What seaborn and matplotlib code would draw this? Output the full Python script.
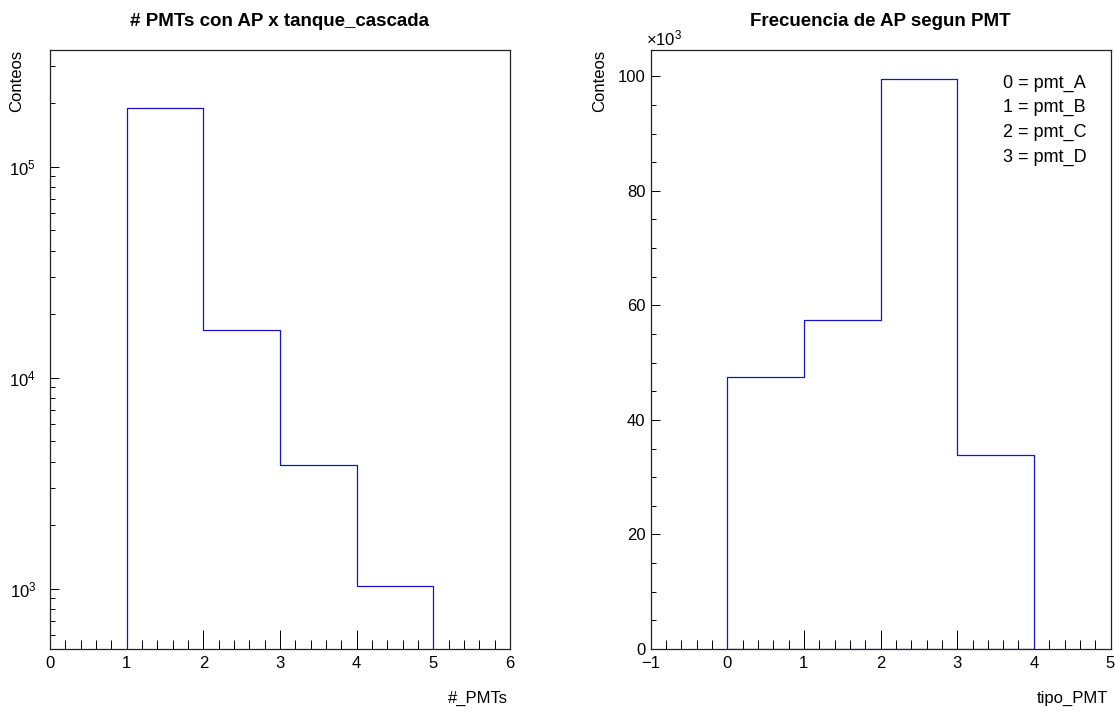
import numpy as np
import pandas as pd
import matplotlib
matplotlib.use("Agg")
import matplotlib.pyplot as plt
import matplotlib.ticker as mticker
import seaborn as sns

pmts_edges = [1, 2, 3, 4, 5]
pmts_conteos = [189000, 16850, 3840, 1025]

tipo_edges = [0, 1, 2, 3, 4]
tipo_conteos = [47500, 57400, 99600, 33800]
tipo_nombres = ["pmt_A", "pmt_B", "pmt_C", "pmt_D"]

titulo_izq = "# PMTs con AP x tanque_cascada"
titulo_der = "Frecuencia de AP segun PMT"

azul = "#1414c8"

sns.set_theme(style="white")
plt.rcParams["font.family"] = ["Liberation Sans", "DejaVu Sans"]
plt.rcParams["mathtext.fontset"] = "custom"
plt.rcParams["mathtext.rm"] = "Liberation Sans"
plt.rcParams["axes.edgecolor"] = "#222222"
plt.rcParams["axes.linewidth"] = 0.9
plt.rcParams["text.color"] = "black"
plt.rcParams["axes.labelcolor"] = "black"

W, H = 1115, 712
fig = plt.figure(figsize=(W / 100, H / 100), dpi=100)
ax1 = fig.add_axes([50 / W, (H - 649) / H, 460 / W, 599 / H])
ax2 = fig.add_axes([650.5 / W, (H - 649) / H, 460 / W, 599 / H])


def centros(edges):
    e = np.asarray(edges, dtype=float)
    return (e[:-1] + e[1:]) / 2


df_izq = pd.DataFrame({"n": centros(pmts_edges), "conteos": pmts_conteos})
df_der = pd.DataFrame({"tipo": centros(tipo_edges), "conteos": tipo_conteos})

sns.histplot(data=df_izq, x="n", weights="conteos", bins=pmts_edges,
             element="step", fill=True, color=azul, facecolor="none",
             edgecolor=azul, linewidth=0.9, ax=ax1)
sns.histplot(data=df_der, x="tipo", weights="conteos", bins=tipo_edges,
             element="step", fill=True, color=azul, facecolor="none",
             edgecolor=azul, linewidth=0.9, ax=ax2)

# --- panel izquierdo (log)
ax1.set_yscale("log")
ax1.set_xlim(0, 6)
ax1.set_ylim(517, 3.57e5)
ax1.xaxis.set_major_locator(mticker.MultipleLocator(1))
ax1.xaxis.set_minor_locator(mticker.MultipleLocator(0.2))
ax1.yaxis.set_major_locator(mticker.LogLocator(base=10, numticks=20))
ax1.yaxis.set_minor_locator(mticker.LogLocator(base=10, subs=np.arange(2, 10), numticks=50))
ax1.yaxis.set_major_formatter(mticker.FuncFormatter(
    lambda v, p: r"$\mathregular{10^{%d}}$" % round(np.log10(v))))
ax1.yaxis.set_minor_formatter(mticker.NullFormatter())

# --- panel derecho (lineal)
ax2.set_xlim(-1, 5)
ax2.set_ylim(0, 1.05 * max(tipo_conteos))
ax2.xaxis.set_major_locator(mticker.MultipleLocator(1))
ax2.xaxis.set_minor_locator(mticker.MultipleLocator(0.2))
ax2.yaxis.set_major_locator(mticker.MultipleLocator(20000))
ax2.yaxis.set_minor_locator(mticker.MultipleLocator(5000))
ax2.yaxis.set_major_formatter(mticker.FuncFormatter(lambda v, p: "%d" % round(v / 1000)))
ax2.text(-0.01, 1.007, r"$\mathregular{×10^{3}}$", transform=ax2.transAxes,
         ha="left", va="baseline", fontsize=12)

for ax, ypad in ((ax1, 10), (ax2, 3.6)):
    for s in ax.spines.values():
        s.set_visible(True)
    ax.tick_params(which="both", direction="in", bottom=True, left=True,
                   top=False, right=False, color="black", width=0.7,
                   labelsize=12, labelcolor="black")
    ax.tick_params(axis="x", which="major", length=13.5, pad=5)
    ax.tick_params(axis="x", which="minor", length=6.7)
    ax.tick_params(axis="y", which="major", length=6.8, pad=ypad)
    ax.tick_params(axis="y", which="minor", length=3.6)

ax1.set_title(titulo_izq, fontsize=13.5, fontweight="bold", pad=17)
ax2.set_title(titulo_der, fontsize=13.5, fontweight="bold", pad=17)

ax1.set_ylabel("Conteos", loc="top", fontsize=12)
ax2.set_ylabel("Conteos", loc="top", fontsize=12)
ax1.yaxis.set_label_coords(-0.0565, 1.0)
ax2.yaxis.set_label_coords(-0.0946, 1.0)

ax1.set_xlabel("#_PMTs", loc="right", fontsize=12)
ax2.set_xlabel("tipo_PMT", loc="right", fontsize=12)
ax1.xaxis.set_label_coords(1 - 2 / 460, -0.07)
ax2.xaxis.set_label_coords(1 - 2 / 460, -0.07)

# leyenda de tipos de PMT
for i, nombre in enumerate(tipo_nombres):
    ax2.text(0.766, 0.945 - i * 0.0415, f"{i} = {nombre}", transform=ax2.transAxes,
             ha="left", va="center", fontsize=13)

fig.savefig("out.png", dpi=100, facecolor="white")
